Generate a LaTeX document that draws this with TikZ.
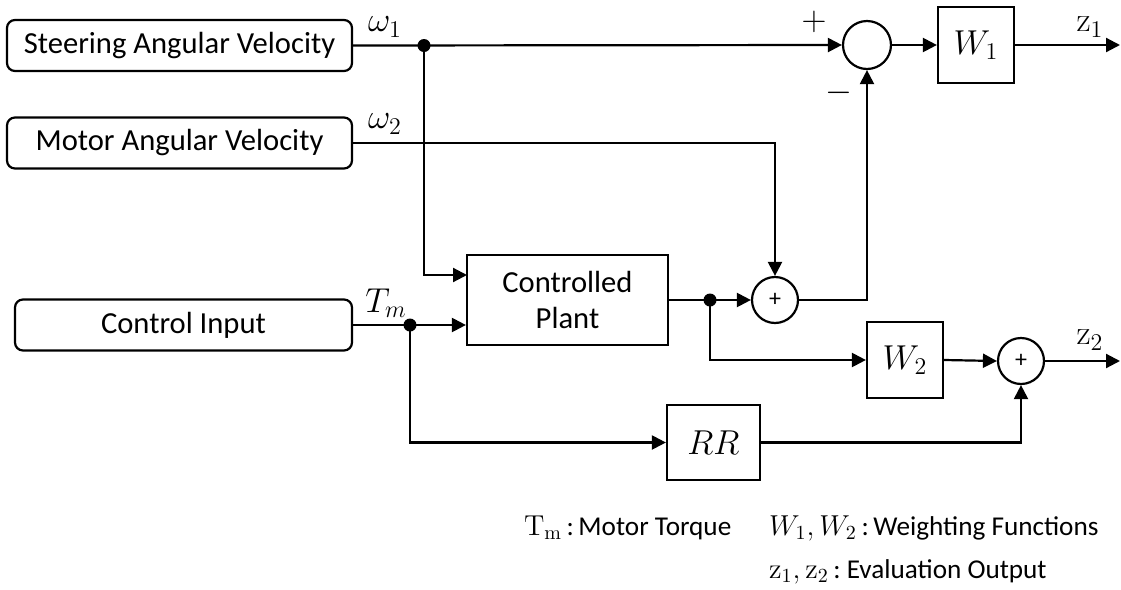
\documentclass[tikz,border=0pt]{standalone}
\usepackage[no-math]{fontspec}
\usepackage{amsmath}
\setmainfont{Carlito}
\usetikzlibrary{arrows.meta}

\tikzset{
  sig/.style={-{Triangle[length=7pt,width=7pt]}},
  srcbox/.style={draw,rounded corners=4pt,minimum width=172.5pt,minimum height=25.5pt,inner sep=0pt},
  blk/.style={draw,minimum width=38pt,minimum height=38pt,inner sep=0pt,font=\fontsize{17}{20}\selectfont},
  sumnode/.style={draw,circle,minimum size=23pt,inner sep=0pt,font=\fontsize{12}{14}\selectfont},
  jdot/.style={circle,fill,minimum size=6.5pt,inner sep=0pt},
  mlabel/.style={font=\fontsize{17}{20}\selectfont},
  legend/.style={anchor=west,inner sep=0pt,font=\fontsize{13.6}{16}\selectfont},
}

\begin{document}
\begin{tikzpicture}[x=0.5pt,y=-0.5pt,line width=1.1pt,font=\fontsize{15.3}{18}\selectfont]
                \useasboundingbox (0,0) rectangle (1121,590);

                % sources
                \node[srcbox] (steer) at (179.5,45.5) {Steering Angular Velocity};
                \node[srcbox] (motor) at (179.5,143) {Motor Angular Velocity};
                \node[srcbox,minimum width=168.5pt] (ctrl) at (183.5,325) {Control Input};

                % blocks
                \node[draw,minimum width=100.5pt,minimum height=45pt,align=center] (plant) at (567.5,300) {Controlled\\Plant};
                \node[blk] (w1) at (976,45) {$W_1$};
                \node[blk] (w2) at (905,360) {$W_2$};
                \node[blk,minimum width=46.5pt,minimum height=37.5pt] (rr) at (713.5,442.5) {$RR$};

                \node[sumnode,minimum size=24pt] (sum1) at (867,45) {};
                \node[sumnode] (sum2) at (775,300) {+};
                \node[sumnode] (sum3) at (1021,361) {+};

                % junctions
                \node[jdot] (j1) at (424,45.5) {};
                \node[jdot] (j2) at (410,325) {};
                \node[jdot] (j3) at (710,300) {};
                \coordinate (pin1) at (467,275);
                \coordinate (z1end) at (1120,45);
                \coordinate (z2end) at (1120,361);

                % signals
                \draw[sig] (steer.east) -- (sum1.west);
                \draw[sig] (j1.center) |- (pin1);
                \draw[sig] (motor.east) -| (sum2.north);
                \draw[sig] (ctrl.east) -- (ctrl.east -| plant.west);
                \draw[sig] (j2.center) |- (rr.west);
                \draw[sig] (plant.east) -- (sum2.west);
                \draw[sig] (j3.center) |- (w2.west);
                \draw[sig] (sum2.east) -| (sum1.south);
                \draw[sig] (sum1.east) -- (w1.west);
                \draw[sig] (w1.east) -- (z1end);
                \draw[sig] (w2.east) -- (sum3.west);
                \draw[sig] (rr.east) -| (sum3.south);
                \draw[sig] (sum3.east) -- (z2end);

                % labels
                \node[mlabel] at (385,27) {$\omega_1$};
                \node[mlabel] at (385,124) {$\omega_2$};
                \node[mlabel] at (386,303) {$T_m$};
                \node[mlabel] at (814,22) {$+$};
                \node[mlabel] at (839,93) {$-$};
                \node[mlabel] at (1090,27) {$\mathrm{z}_1$};
                \node[mlabel] at (1090,340) {$\mathrm{z}_2$};

                % legend
                \node[legend] (lgt) at (523,528) {$\mathrm{T_m}$\,:\,Motor Torque};
                \node[legend] (lgw) at (768,528) {$W_1, W_2$\,:\,Weighting Functions};
                \node[legend] (lgz) at (768,572) {$\mathrm{z}_1, \mathrm{z}_2$\,:~Evaluation Output};
            \end{tikzpicture}
\end{document}
